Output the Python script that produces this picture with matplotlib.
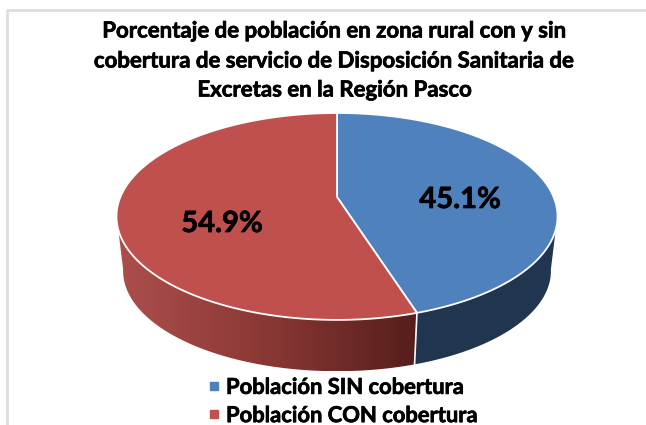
import numpy as np
import matplotlib
matplotlib.use('Agg')
import matplotlib.pyplot as plt
import matplotlib.patheffects as pe
from matplotlib.colors import LinearSegmentedColormap
from matplotlib.lines import Line2D
from matplotlib.patches import Polygon

# data
labels = ['Población SIN cobertura', 'Población CON cobertura']
values = [45.1, 54.9]
value_text = ['45.1%', '54.9%']
title_lines = ['Porcentaje de población en zona rural con y sin',
               'cobertura de servicio de Disposición Sanitaria de',
               'Excretas en la Región Pasco']

top_colors = ['#4F81BD', '#C0504D']
BLUE_WALL = '#1F3550'
RED_WALL_LEFT = '#AD4F4C'
RED_WALL_RIGHT = '#561E1B'

# pie geometry in pixels: a circle seen in perspective
CX = 337
APEX_Y = 197
PERSP = 0.188
RX = 216.6
RY = 99.8
DEPTH_APEX_Y = 252
DEPTH_SCALE = 0.97

# thin outline to make Lato Bold as heavy as the reference text
HEAVY = [pe.withStroke(linewidth=0.5, foreground='black')]


# function to project an angle (degrees, clockwise from the top) on the pie rim
def rim(angle, apex_y=APEX_Y, scale=1.0):
	t = np.radians(angle)
	w = 1 + PERSP * np.cos(t)
	x = CX + scale * RX * np.sin(t) / w
	y = apex_y - scale * RY * np.cos(t) / w
	return np.column_stack([x, y])


# function to build the side wall polygon between two angles
def wall_points(a1, a2):
	t = np.linspace(a1, a2, 80)
	return np.vstack([rim(t), rim(t[::-1], DEPTH_APEX_Y, DEPTH_SCALE)])


fig = plt.figure(figsize=(6.46, 4.25), dpi=100)
ax = fig.add_axes([0, 0, 1, 1])
ax.set_xlim(0, 646)
ax.set_ylim(425, 0)
ax.axis('off')
plt.rcParams['font.family'] = ['Lato', 'DejaVu Sans']

# chart frame
ax.plot([7, 7, 646], [425, 10, 10], color='#DEDEDE', lw=2, zorder=1)

angles = np.cumsum([0] + values) / sum(values) * 360
cut = angles[1]

# side walls
blue_wall = Polygon(wall_points(100, cut), closed=True, fc=BLUE_WALL, ec='none', zorder=2)
ax.add_patch(blue_wall)

red_pts = wall_points(cut, 260)
red_wall = Polygon(red_pts, closed=True, fc='none', ec='none', zorder=2)
ax.add_patch(red_wall)
cmap = LinearSegmentedColormap.from_list('wall', [RED_WALL_LEFT, '#8A3835', RED_WALL_RIGHT])
grad = np.linspace(0, 1, 256).reshape(1, -1)
img = ax.imshow(grad, cmap=cmap, aspect='auto', zorder=2,
				extent=[red_pts[:, 0].min(), red_pts[:, 0].max(), red_pts[:, 1].max(), red_pts[:, 1].min()])
img.set_clip_path(red_wall)
ax.set_xlim(0, 646)
ax.set_ylim(425, 0)

# white line between the two walls
ax.plot([rim(cut)[0, 0], rim(cut, DEPTH_APEX_Y, DEPTH_SCALE)[0, 0]],
		[rim(cut)[0, 1], rim(cut, DEPTH_APEX_Y, DEPTH_SCALE)[0, 1]],
		color='white', lw=1.2, zorder=3)

# top face
for i in range(len(values)):
	t = np.linspace(angles[i], angles[i + 1], 200)
	pts = np.vstack([[CX, APEX_Y], rim(t)])
	ax.add_patch(Polygon(pts, closed=True, fc=top_colors[i], ec='white', lw=1.3, joinstyle='round', zorder=4))

# value labels
ax.text(460, 200, value_text[0], ha='center', va='center', fontsize=21, fontweight='bold', color='black', zorder=5, path_effects=HEAVY)
ax.text(222, 224, value_text[1], ha='center', va='center', fontsize=21, fontweight='bold', color='black', zorder=5, path_effects=HEAVY)

# title
for y, line in zip([31, 61, 90], title_lines):
	ax.text(335, y, line, ha='center', va='center', fontsize=16, fontweight='bold', color='black', zorder=5, path_effects=HEAVY)

# legend
handles = [Line2D([], [], ls='none', marker='s', ms=6, color=c) for c in top_colors]
leg = ax.legend(handles, labels, loc='center left', bbox_to_anchor=(192 / 646, 1 - 401.5 / 425), frameon=False,
		  prop={'size': 15.8, 'weight': 'bold'}, handletextpad=0.05, labelspacing=0.33, borderpad=0, handlelength=1.0)
for t in leg.get_texts():
	t.set_path_effects(HEAVY)

fig.savefig('out.png', dpi=100)
